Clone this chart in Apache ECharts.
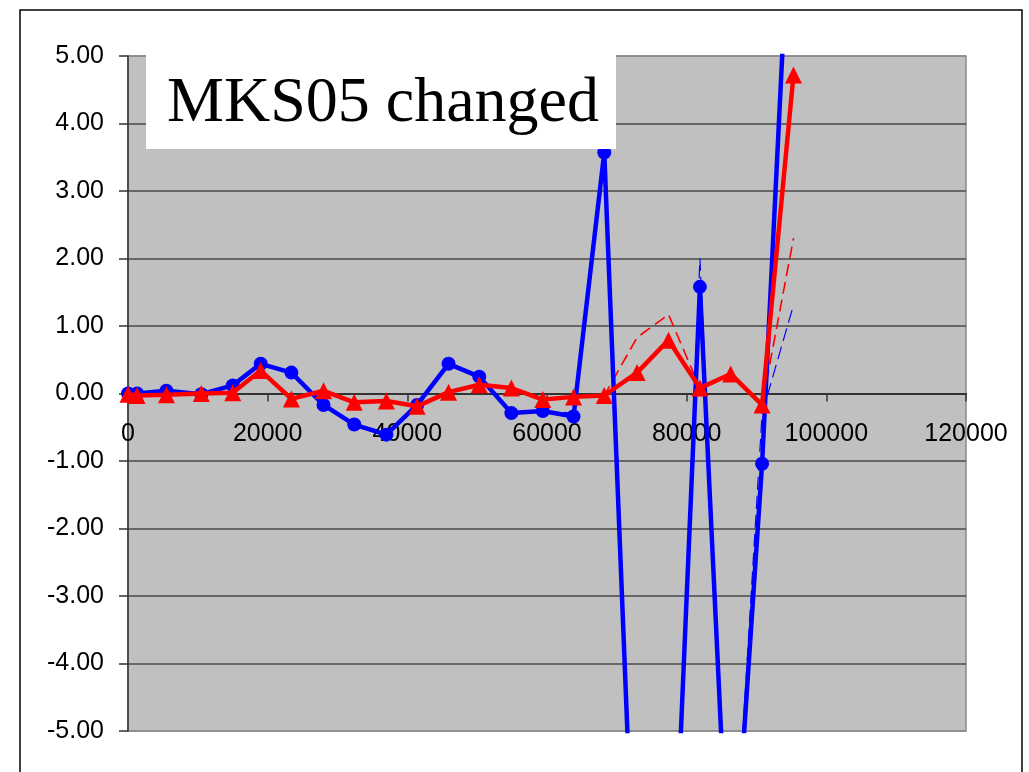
<!DOCTYPE html>
<html>
<head>
<meta charset="utf-8">
<title>MKS05 changed</title>
<script src="https://cdn.jsdelivr.net/npm/echarts@6/dist/echarts.min.js"></script>
<style>
  html, body { margin: 0; padding: 0; background: #fff; }
  #chart { width: 1029px; height: 772px; }
</style>
</head>
<body>
<div id="chart"></div>
<script>
// x positions of the samples
const xValues = [0, 1300, 5500, 10500, 15000, 19000, 23400, 28000, 32400, 37000, 41400, 45900,
  50300, 54900, 59400, 63800, 68200, 72900, 77400, 81900, 86300, 90800, 95300]

// thick lines with markers
const blueValues = [0, 0, 0.04, -0.01, 0.12, 0.44, 0.31, -0.17, -0.46, -0.61, -0.17, 0.44,
  0.25, -0.29, -0.26, -0.34, 3.57, -8.6, -9.3, 1.58, -8.0, -1.04, 8.4]
const redValues = [-0.01, -0.03, -0.02, 0.0, 0.01, 0.34, -0.08, 0.04, -0.13, -0.11, -0.19, 0.02,
  0.13, 0.08, -0.09, -0.05, -0.03, 0.31, 0.79, 0.08, 0.29, -0.17, 4.72]

// thin dashed lines (before change)
const blueThinValues = [0, 0, 0.04, -0.01, 0.12, 0.44, 0.29, -0.17, -0.45, -0.58, -0.17, 0.42,
  0.23, -0.29, -0.26, -0.29, 3.57, -8.9, -9.3, 2.0, -8.0, -0.3, 1.31]
const redThinValues = [-0.01, -0.03, -0.02, 0.0, 0.01, 0.34, -0.08, 0.04, -0.13, -0.11, -0.19, 0.02,
  0.13, 0.08, -0.09, -0.05, -0.03, 0.83, 1.17, 0.08, 0.29, -0.17, 2.3]

const xTicks = [0, 20000, 40000, 60000, 80000, 100000, 120000]
const yTicks = [-5, -4, -3, -2, -1, 0, 1, 2, 3, 4, 5]

const titleText = 'MKS05 changed'

function pairs(ys) {
  return xValues.map((x, i) => [x, ys[i]])
}

const chart = echarts.init(document.getElementById('chart'))

const labelFont = {
  color: '#000',
  fontFamily: 'Liberation Sans',
  fontSize: 25
}

const gridTop = 56
const gridBottom = 41
const plotHeight = 772 - gridTop - gridBottom
// x axis sits on the zero line: shift it up from the bottom edge
const zeroOffset = -plotHeight * (0 - yTicks[0]) / (yTicks[yTicks.length - 1] - yTicks[0])

// gridline colours: outer lines sit under the plot border
const splitColors = yTicks.map((v, i) => (i === 0 || i === yTicks.length - 1) ? '#8a8a8a' : '#4a4a4a')

chart.setOption({
  animation: false,
  backgroundColor: '#fff',
  grid: {
    left: 128,
    right: 63,
    top: gridTop,
    bottom: gridBottom,
    outerBoundsMode: 'none',
    containLabel: false,
    show: true,
    backgroundColor: '#c0c0c0',
    borderColor: '#8a8a8a',
    borderWidth: 1.5
  },
  xAxis: {
    type: 'value',
    position: 'bottom',
    offset: zeroOffset,
    min: xTicks[0],
    max: xTicks[xTicks.length - 1],
    interval: 20000,
    axisLine: { onZero: false, lineStyle: { color: '#333', width: 2 } },
    axisTick: { show: true, length: 8, lineStyle: { color: '#333', width: 1.5 } },
    axisLabel: Object.assign({ margin: 28, formatter: v => String(v) }, labelFont),
    splitLine: { show: false }
  },
  yAxis: {
    type: 'value',
    min: yTicks[0],
    max: yTicks[yTicks.length - 1],
    interval: 1,
    axisLine: { show: true, onZero: false, lineStyle: { color: '#333', width: 1.5 } },
    axisTick: { show: true, length: 9, lineStyle: { color: '#333', width: 1.5 } },
    axisLabel: Object.assign({ margin: 24, formatter: v => v.toFixed(2) }, labelFont),
    splitLine: { show: true, lineStyle: { color: splitColors, width: 1.5 } }
  },
  series: [
    {
      type: 'line',
      data: pairs(blueThinValues),
      symbol: 'none',
      lineStyle: { color: '#0000ff', width: 1.2, type: [13, 6] },
      z: 2
    },
    {
      type: 'line',
      data: pairs(redThinValues),
      symbol: 'none',
      lineStyle: { color: '#ff0000', width: 1.6, type: [12, 6] },
      z: 2
    },
    {
      type: 'line',
      data: pairs(blueValues),
      symbol: 'circle',
      symbolSize: 14,
      itemStyle: { color: '#0000ff' },
      lineStyle: { color: '#0000ff', width: 4.5 },
      z: 3
    },
    {
      type: 'line',
      data: pairs(redValues),
      symbol: 'triangle',
      symbolSize: 17,
      itemStyle: { color: '#ff0000' },
      lineStyle: { color: '#ff0000', width: 4.5 },
      z: 4
    }
  ],
  graphic: [
    {
      type: 'rect',
      shape: { x: 20, y: 10, width: 1002, height: 800 },
      style: { fill: 'none', stroke: '#000', lineWidth: 1.5 },
      z: 100
    },
    {
      type: 'rect',
      shape: { x: 146, y: 40, width: 470, height: 109 },
      style: { fill: '#fff' },
      z: 100
    },
    {
      type: 'text',
      x: 167,
      y: 104,
      style: {
        text: titleText,
        fill: '#000',
        font: '64px "Liberation Serif"',
        verticalAlign: 'middle'
      },
      z: 101
    }
  ]
})
</script>
</body>
</html>
